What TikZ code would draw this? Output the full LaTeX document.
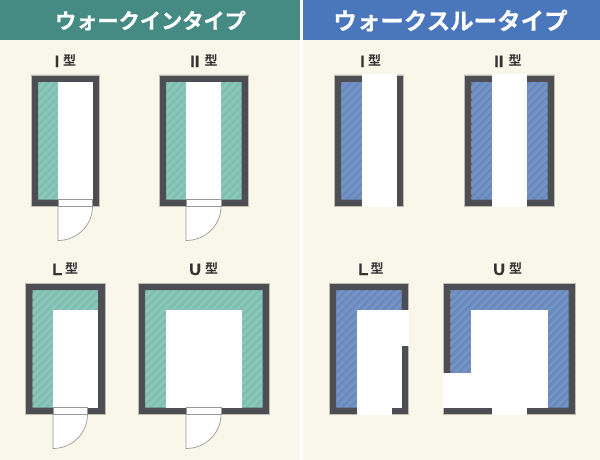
\documentclass[tikz,border=0pt]{standalone}
\usepackage{fontspec}
\setmainfont{Liberation Sans}[BoldFeatures={FakeBold=0.4}]
\newfontfamily\cjk{Noto Sans CJK JP}[BoldFont={Noto Sans CJK JP Bold},BoldFeatures={FakeBold=0.5}]
\newfontfamily\cjklab{Noto Sans CJK JP Bold}
\definecolor{bgc}{HTML}{F9F7EA}
\definecolor{wallc}{HTML}{4D4E53}
\definecolor{grnh}{HTML}{458B83}
\definecolor{bluh}{HTML}{4A76BC}
\definecolor{grnb}{HTML}{8AC8BA}
\definecolor{grns}{HTML}{7FBEB0}
\definecolor{blub}{HTML}{7494C6}
\definecolor{blus}{HTML}{6A8ABE}
\definecolor{edgec}{HTML}{BDBDB2}
\definecolor{doorc}{HTML}{999999}
\definecolor{labc}{HTML}{333333}
\tikzset{
  wall/.style={fill=wallc,even odd rule},
  walledge/.style={draw=edgec,line width=0.4pt},
  clear/.style={fill=white},
  door/.style={fill=white,draw=doorc,line width=0.7pt},
  header/.style={text=white,inner sep=0pt,anchor=center},
  typeletter/.style={text=labc,inner sep=0pt,anchor=base west,font=\bfseries\fontsize{16.5}{17}\selectfont},
  typekanji/.style={text=labc,inner sep=0pt,anchor=base west,font=\cjklab\fontsize{13}{13}\selectfont},
}
% outer x1 y1 x2 y2, base colour, stripe colour: hatched floor, then wall frame 7 wide
\newcommand{\room}[6]{%
  \pgfmathsetmacro\ixa{#1+7}\pgfmathsetmacro\iya{#2+7}%
  \pgfmathsetmacro\ixb{#3-7}\pgfmathsetmacro\iyb{#4-7}%
  \fill[#5] (\ixa,\iya) rectangle (\ixb,\iyb);
  \foreach \k in {0,...,36}{
    \pgfmathsetmacro\hcc{\ixa+\iya+3+\k*8}%
    \pgfmathsetmacro\hax{max(\ixa,\hcc-\iyb)}%
    \pgfmathsetmacro\hay{\hcc-\hax}%
    \pgfmathsetmacro\hbx{min(\ixb,\hcc-\iya)}%
    \pgfmathsetmacro\hby{\hcc-\hbx}%
    \pgfmathtruncatemacro\hok{\hax<\hbx ? 1 : 0}%
    \ifnum\hok=1 \draw[#6,line width=2.6pt] (\hax,\hay) -- (\hbx,\hby);\fi
  }
  \fill[wall] (#1,#2) rectangle (#3,#4) (\ixa,\iya) rectangle (\ixb,\iyb);
  \draw[walledge] (#1,#2) rectangle (#3,#4);
}
\newcommand{\doorleaf}[3]{% x-left x-right y-top
  \draw[door] (#1,#3) -- (#2,#3) arc[start angle=0,end angle=-90,x radius={#2-#1},y radius=-34] -- cycle;
}
\begin{document}
\begin{tikzpicture}[x=1pt,y=-1pt]
\useasboundingbox (0,0) rectangle (600,460);
\fill[bgc] (0,0) rectangle (600,460);
\fill[white] (300,0) rectangle (303,460);
\fill[grnh] (0,0) rectangle (300,40);
\fill[bluh] (303,0) rectangle (600,40);
\node[header,font=\cjk\bfseries\fontsize{21.2}{22}\selectfont] (h1) at (150.5,20.5) {ウォークインタイプ};
\node[header,font=\cjk\bfseries\fontsize{23.5}{24}\selectfont] (h2) at (450.5,20.5) {ウォークスルータイプ};

% labels: letter and kanji
\node[typeletter] (a1) at (54.5,67) {I};
\node[typekanji] (k1) at (63,65.5) {型};
\node[typeletter] (a2) at (190,67) {II};
\node[typekanji] (k2) at (204.5,65.5) {型};
\node[typeletter] (a3) at (52,275) {L};
\node[typekanji] (k3) at (65,273.5) {型};
\node[typeletter] (a4) at (189,275) {U};
\node[typekanji] (k4) at (205,273.5) {型};
\node[typeletter] (b1) at (360,67) {I};
\node[typekanji] (m1) at (368,65.5) {型};
\node[typeletter] (b2) at (494,67) {II};
\node[typekanji] (m2) at (508.5,65.5) {型};
\node[typeletter] (b3) at (358,275) {L};
\node[typekanji] (m3) at (370.5,273.5) {型};
\node[typeletter] (b4) at (493,275) {U};
\node[typekanji] (m4) at (509,273.5) {型};

% walk-in I
\room{31}{75}{99.5}{206.5}{grnb}{grns}
\fill[clear] (58,82) rectangle (92.5,199.5);
\draw[door] (58,199.5) rectangle (92.5,206.5);
\doorleaf{58}{92.5}{206.5}
% walk-in II
\room{159}{75}{248.5}{206.5}{grnb}{grns}
\fill[clear] (186,82) rectangle (221,199.5);
\draw[door] (186,199.5) rectangle (221,206.5);
\doorleaf{186}{221}{206.5}
% walk-in L
\room{25.5}{283}{105}{414.5}{grnb}{grns}
\fill[clear] (52.5,310) rectangle (98,407.5);
\draw[door] (53,407.5) rectangle (87.5,414.5);
\doorleaf{53}{87.5}{414.5}
% walk-in U
\room{138}{283}{269.5}{414.5}{grnb}{grns}
\fill[clear] (165.5,310) rectangle (242,407.5);
\draw[door] (186,407.5) rectangle (221,414.5);
\doorleaf{186}{221}{414.5}

% through I
\room{334}{75}{403.5}{206.5}{blub}{blus}
\fill[clear] (361.5,74.5) rectangle (396.5,207);
% through II
\room{464.5}{75}{554.5}{206.5}{blub}{blus}
\fill[clear] (491.5,74.5) rectangle (526.5,207);
% through L
\room{329}{283}{408.5}{414.5}{blub}{blus}
\fill[clear] (356.5,310) rectangle (401.5,407.5);
\fill[clear] (401,310) rectangle (409,345.5);
\fill[clear] (356.5,407) rectangle (392,415);
% through U
\room{443.5}{283}{575.5}{414.5}{blub}{blus}
\fill[clear] (471,310) rectangle (547.5,407.5);
\fill[clear] (443,372.5) rectangle (471.5,407.5);
\fill[clear] (491.5,407) rectangle (526.5,415);
\end{tikzpicture}
\end{document}
